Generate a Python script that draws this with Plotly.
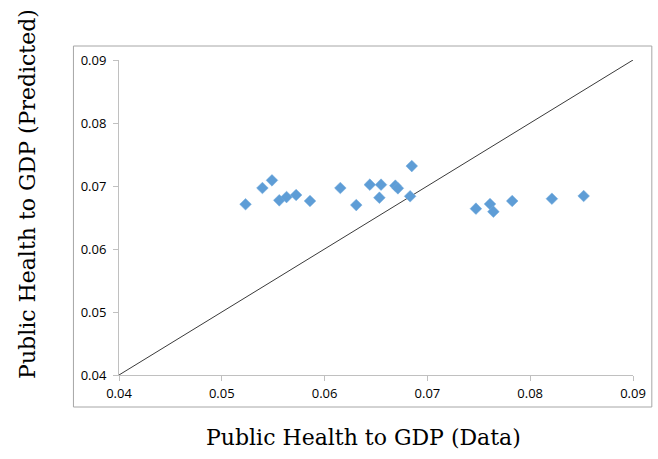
import plotly.graph_objects as go

# Data
data_x = [0.05231, 0.05395, 0.05488, 0.05559, 0.05630, 0.05723, 0.05858,
          0.06153, 0.06308, 0.06440, 0.06549, 0.06533, 0.06688, 0.06713,
          0.06848, 0.06832, 0.07472, 0.07609, 0.07642, 0.07825, 0.08211, 0.08520]
predicted_y = [0.06710, 0.06968, 0.07090, 0.06773, 0.06825, 0.06857, 0.06762,
               0.06968, 0.06698, 0.07021, 0.07021, 0.06814, 0.07005, 0.06963,
               0.07317, 0.06837, 0.06640, 0.06714, 0.06592, 0.06762, 0.06798, 0.06841]
line_x = [0.04, 0.09]
line_y = [0.04, 0.09]
tick_vals = [0.04, 0.05, 0.06, 0.07, 0.08, 0.09]
tick_text = ["0.04", "0.05", "0.06", "0.07", "0.08", "0.09"]
x_title = "Public Health to GDP (Data)"
y_title = "Public Health to GDP (Predicted)"

fig = go.Figure()
fig.add_trace(go.Scatter(x=line_x, y=line_y, mode="lines",
                         line=dict(color="#3a3a3a", width=1), showlegend=False,
                         hoverinfo="skip"))
fig.add_trace(go.Scatter(x=data_x, y=predicted_y, mode="markers",
                         marker=dict(symbol="diamond", size=9, color="#5e9dd6",
                                     line=dict(color="#73aadd", width=0.5)),
                         showlegend=False))

axis_common = dict(
    range=[0.04, 0.09], tickvals=tick_vals, ticktext=tick_text,
    showgrid=False, zeroline=False, showline=True, linecolor="#c0c0c0",
    linewidth=1, ticks="outside", ticklen=5, tickcolor="#c0c0c0",
    tickfont=dict(family="Open Sans, sans-serif", size=13, color="#000"),
)
fig.update_xaxes(**axis_common, ticklabelstandoff=1)
fig.update_yaxes(**axis_common, ticklabelstandoff=4)

fig.update_layout(
    width=658, height=459,
    margin=dict(l=119, r=20, t=60, b=84),
    paper_bgcolor="white", plot_bgcolor="white",
    shapes=[dict(type="rect", xref="paper", yref="paper",
                 x0=(73 - 119) / 519, x1=(657 - 119) / 519,
                 y0=(375 - 407) / 315, y1=(375 - 46) / 315,
                 line=dict(color="#a6a6a6", width=1), fillcolor="rgba(0,0,0,0)",
                 layer="below")],
    annotations=[
        dict(text=x_title, xref="paper", yref="paper",
             x=(366 - 119) / 519, y=(375 - 437) / 315,
             xanchor="center", yanchor="middle", showarrow=False,
             font=dict(family="DejaVu Serif, serif", size=22, color="#000")),
        dict(text=y_title, xref="paper", yref="paper",
             x=(26 - 119) / 519, y=(375 - 194) / 315, textangle=-90,
             xanchor="center", yanchor="middle", showarrow=False,
             font=dict(family="DejaVu Serif, serif", size=22, color="#000")),
    ],
)

fig.write_html("out.html")
